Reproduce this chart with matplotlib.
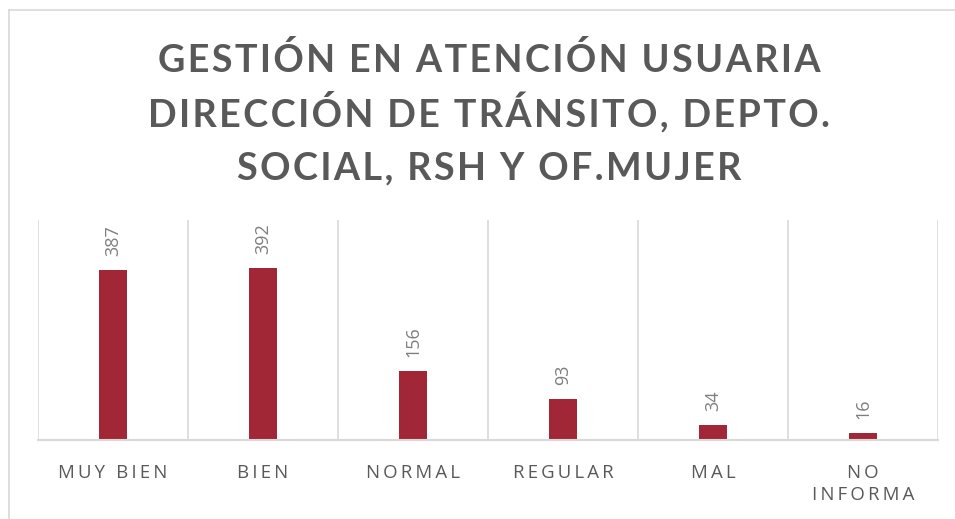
import matplotlib
matplotlib.use("Agg")
import matplotlib.pyplot as plt
from matplotlib.lines import Line2D

categories = ["MUY BIEN", "BIEN", "NORMAL", "REGULAR", "MAL", "NO\nINFORMA"]
values = [387, 392, 156, 93, 34, 16]
title_lines = [
    "GESTIÓN EN ATENCIÓN USUARIA",
    "DIRECCIÓN DE TRÁNSITO, DEPTO.",
    "SOCIAL, RSH Y OF.MUJER",
]

BAR = "#A12737"
GRID = "#D9D9D9"
TEXT = "#595959"
FONT = ["Open Sans", "DejaVu Sans"]


def spaced(s, sep="\u2009"):
    # fake letter spacing, line by line
    return "\n".join(sep.join(line) for line in s.split("\n"))


fig = plt.figure(figsize=(9.55, 5.19), dpi=100)
fig.patch.set_facecolor("white")

# outer chart border (cropped on right / bottom)
bx, by = 9 / 955, 1 - 10 / 519
fig.add_artist(Line2D([bx, bx], [0, by], color=GRID, lw=1.2, transform=fig.transFigure))
fig.add_artist(Line2D([bx, 1], [by, by], color=GRID, lw=1.2, transform=fig.transFigure))

# title, one line at a time (baselines)
for line, base in zip(title_lines, [72, 126, 179]):
    fig.text(
        489 / 955, 1 - base / 519, spaced(line, "\u200a"),
        ha="center", va="baseline", fontsize=27.2, fontweight="bold",
        color=TEXT, family=["Lato", "DejaVu Sans"],
    )

ax = fig.add_axes([38 / 955, 79 / 519, 900 / 955, 220 / 519])
x = list(range(len(categories)))
bars = ax.bar(x, values, width=0.187, color=BAR, zorder=3)

ax.set_xlim(-0.5, len(categories) - 0.5)
ax.set_ylim(0, 500)

for i in range(len(categories) + 1):
    ax.axvline(i - 0.5, color=GRID, lw=1.2, zorder=1)

for rect, v in zip(bars, values):
    ax.annotate(
        str(v), (rect.get_x() + rect.get_width() / 2, rect.get_height()),
        xytext=(0, 10), textcoords="offset points",
        ha="center", va="bottom", rotation=90,
        fontsize=13, color="#7F7F7F", family=FONT,
    )

ax.set_xticks(x)
ax.set_xticklabels([spaced(c) for c in categories], fontsize=13.4, color=TEXT,
                   family=FONT, linespacing=1.3, va="top")
ax.tick_params(axis="x", length=0, pad=17)
ax.set_yticks([])
for side in ["top", "left", "right"]:
    ax.spines[side].set_visible(False)
ax.spines["bottom"].set_color(GRID)
ax.spines["bottom"].set_linewidth(1.5)
ax.spines["bottom"].set_zorder(4)

fig.savefig("out.png", dpi=100, facecolor=fig.get_facecolor())
